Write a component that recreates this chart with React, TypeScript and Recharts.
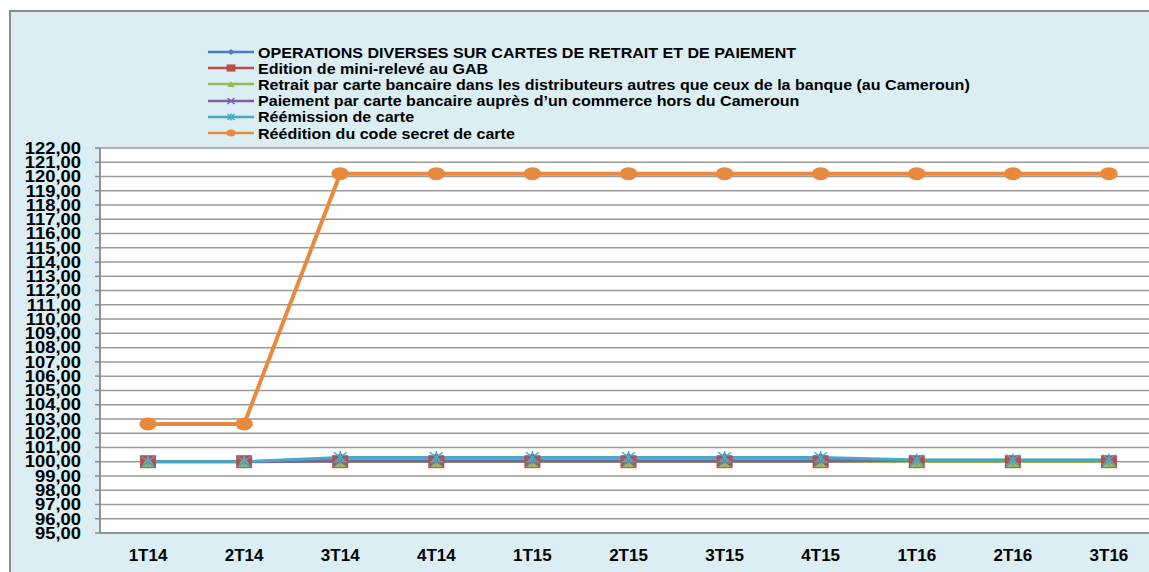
import { CartesianGrid, Line, LineChart, XAxis, YAxis } from "recharts";

const quarters = ["1T14", "2T14", "3T14", "4T14", "1T15", "2T15", "3T15", "4T15", "1T16", "2T16", "3T16"];

const operations = [100, 100, 100.25, 100.25, 100.25, 100.25, 100.25, 100.25, 100.1, 100.1, 100.1];
const miniReleve = [100, 100, 100, 100, 100, 100, 100, 100, 100, 100, 100];
const retraitCameroun = [100, 100, 100, 100, 100, 100, 100, 100, 100, 100, 100];
const paiementHors = [100, 100, 100.05, 100.05, 100.05, 100.05, 100.05, 100.05, 100.1, 100.1, 100.1];
const reemission = [100, 100, 100.3, 100.3, 100.3, 100.3, 100.3, 100.3, 100.12, 100.12, 100.12];
const reedition = [102.65, 102.65, 120.2, 120.2, 120.2, 120.2, 120.2, 120.2, 120.2, 120.2, 120.2];

const yTicks = [95, 96, 97, 98, 99, 100, 101, 102, 103, 104, 105, 106, 107, 108, 109, 110, 111, 112, 113, 114, 115, 116, 117, 118, 119, 120, 121, 122];
const bandEdges = [0, 1, 2, 3, 4, 5, 6, 7, 8, 9, 10, 11];
const bandCenters = [0.5, 1.5, 2.5, 3.5, 4.5, 5.5, 6.5, 7.5, 8.5, 9.5, 10.5];

const series = [
  { key: "operations", name: "OPERATIONS DIVERSES SUR CARTES DE RETRAIT ET DE PAIEMENT", color: "#4A7EBB", shape: "diamond", width: 2.5 },
  { key: "miniReleve", name: "Edition de mini-relevé au GAB", color: "#BE4B48", shape: "square", width: 2.5 },
  { key: "retraitCameroun", name: "Retrait par carte bancaire dans les distributeurs autres que ceux de la banque (au Cameroun)", color: "#98B954", shape: "triangle", width: 2.5 },
  { key: "paiementHors", name: "Paiement par carte bancaire auprès d\u2019un commerce hors du Cameroun", color: "#7D60A0", shape: "cross", width: 3 },
  { key: "reemission", name: "Réémission de carte", color: "#46AAC5", shape: "star", width: 3 },
  { key: "reedition", name: "Réédition du code secret de carte", color: "#E8893D", shape: "circle", width: 4 },
];

const data = quarters.map((q, i) => ({
  q,
  pos: bandCenters[i],
  operations: operations[i],
  miniReleve: miniReleve[i],
  retraitCameroun: retraitCameroun[i],
  paiementHors: paiementHors[i],
  reemission: reemission[i],
  reedition: reedition[i],
}));

const FONT = "'Liberation Sans', Arial, sans-serif";

function Marker({ shape, color, cx, cy, s }: { shape: string; color: string; cx: number; cy: number; s: number }) {
  const w = 8 * s;
  const h = 6.5 * s;
  if (shape === "diamond")
    return <polygon points={`${cx - w * 0.75},${cy} ${cx},${cy - h * 0.85} ${cx + w * 0.75},${cy} ${cx},${cy + h * 0.85}`} fill={color} />;
  if (shape === "square") return <rect x={cx - w} y={cy - h} width={w * 2} height={h * 2} fill={color} />;
  if (shape === "triangle")
    return <polygon points={`${cx - w * 0.85},${cy + h * 0.85} ${cx},${cy - h * 0.85} ${cx + w * 0.85},${cy + h * 0.85}`} fill={color} />;
  if (shape === "cross")
    return (
      <g stroke={color} strokeWidth={1.5}>
        <line x1={cx - w * 0.8} y1={cy - h * 0.8} x2={cx + w * 0.8} y2={cy + h * 0.8} />
        <line x1={cx - w * 0.8} y1={cy + h * 0.8} x2={cx + w * 0.8} y2={cy - h * 0.8} />
      </g>
    );
  if (shape === "star")
    return (
      <g stroke={color} strokeWidth={1.5}>
        <line x1={cx - w * 0.8} y1={cy - h * 0.8} x2={cx + w * 0.8} y2={cy + h * 0.8} />
        <line x1={cx - w * 0.8} y1={cy + h * 0.8} x2={cx + w * 0.8} y2={cy - h * 0.8} />
        <line x1={cx} y1={cy - h} x2={cx} y2={cy + h} />
      </g>
    );
  return <ellipse cx={cx} cy={cy} rx={w * 1.1} ry={h} fill={color} />;
}

function ChartLegend() {
  return (
    <div style={{ position: "absolute", left: 197, top: 32, fontFamily: FONT, fontWeight: "bold", fontSize: 15, color: "#000" }}>
      {series.map((s) => (
        <div key={s.key} style={{ display: "flex", alignItems: "center", height: 16.2, whiteSpace: "nowrap" }}>
          <svg width={50} height={16} style={{ flex: "none" }}>
            <line x1={0} y1={8} x2={46} y2={8} stroke={s.color} strokeWidth={2.5} />
            <Marker shape={s.shape} color={s.color} cx={23} cy={8} s={0.55} />
          </svg>
          <span style={{ display: "inline-block", transform: "scaleX(1.07)", transformOrigin: "left center" }}>{s.name}</span>
        </div>
      ))}
    </div>
  );
}

const YTick = ({ x, y, payload }: any) => (
  <g transform={`translate(${x},${y})`}>
    <text transform="scale(1.15,1)" textAnchor="end" dy="0.36em" fontFamily={FONT} fontWeight="bold" fontSize={16} fill="#000">
      {Number(payload.value).toFixed(2).replace(".", ",")}
    </text>
  </g>
);

const XTick = ({ x, y, payload }: any) => (
  <text x={x} y={y + 14} textAnchor="middle" fontFamily={FONT} fontWeight="bold" fontSize={17} fill="#000">
    {quarters[Math.floor(payload.value)]}
  </text>
);

export default function App() {
  return (
    <div style={{ position: "absolute", left: 0, top: 0, width: 1149, height: 572, overflow: "hidden", background: "#fff" }}>
      <div
        style={{
          position: "absolute",
          left: 9,
          top: 10,
          width: 1180,
          height: 600,
          border: "2px solid #8a8a8a",
          background: "#DAEEF3",
          boxSizing: "border-box",
        }}
      >
        <ChartLegend />
        <div style={{ position: "absolute", left: 0, top: 0 }}>
          <LineChart width={1146} height={570} data={data} margin={{ top: 136, right: 0, left: 0, bottom: 0 }}>
            <CartesianGrid xAxisId="grid" stroke="#9a9a9a" strokeWidth={1.5} fill="#fff" />
            <XAxis
              xAxisId="grid"
              type="number"
              dataKey="pos"
              domain={[0, 11]}
              ticks={bandEdges}
              tick={false}
              tickSize={6}
              height={6}
              axisLine={{ stroke: "#8a8a8a", strokeWidth: 1.5 }}
              tickLine={{ stroke: "#8a8a8a", strokeWidth: 1.5 }}
            />
            <XAxis
              xAxisId="lab"
              type="number"
              dataKey="pos"
              domain={[0, 11]}
              ticks={bandCenters}
              interval={0}
              tick={<XTick />}
              tickLine={false}
              axisLine={false}
              height={43}
            />
            <YAxis
              type="number"
              domain={[95, 122]}
              ticks={yTicks}
              interval={0}
              width={89}
              tick={<YTick />}
              tickSize={5}
              tickMargin={14}
              axisLine={{ stroke: "#8a8a8a", strokeWidth: 1.5 }}
              tickLine={{ stroke: "#8a8a8a", strokeWidth: 1.5 }}
            />
            {series.map((s) => (
              <Line
                key={s.key}
                xAxisId="grid"
                type="linear"
                dataKey={s.key}
                name={s.name}
                stroke={s.color}
                strokeWidth={s.width}
                isAnimationActive={false}
                dot={(p: any) => <Marker key={`${s.key}-${p.index}`} shape={s.shape} color={s.color} cx={p.cx} cy={p.cy} s={1} />}
                activeDot={false}
              />
            ))}
          </LineChart>
        </div>
      </div>
    </div>
  );
}
